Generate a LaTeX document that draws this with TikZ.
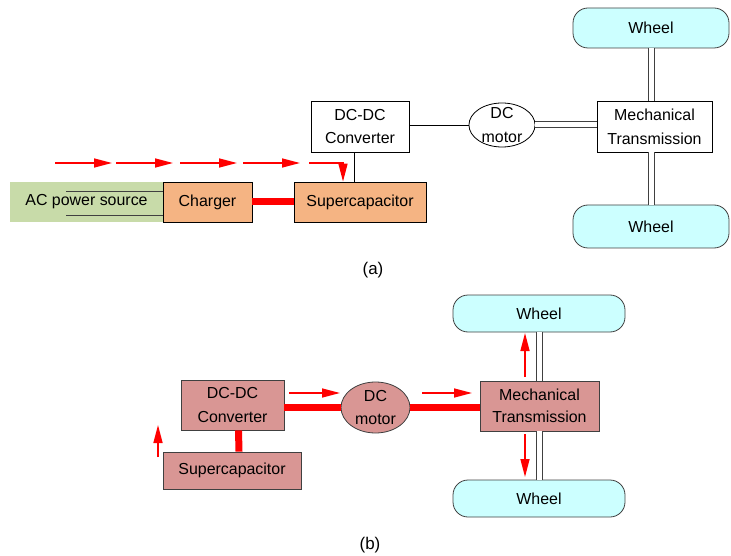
\documentclass[tikz,border=0pt]{standalone}
\usepackage{fontspec}
\setmainfont{Liberation Sans}
\usetikzlibrary{arrows.meta}
\usetikzlibrary{shapes.geometric}
\definecolor{sourceColor}{HTML}{C8DBA9}
\definecolor{chargeColor}{HTML}{F5B483}
\definecolor{driveColor}{HTML}{D99694}
\definecolor{wheelColor}{HTML}{CCFFFF}
\definecolor{flowColor}{HTML}{FF0000}
\definecolor{edgeColor}{HTML}{404040}
\begin{document}
\begin{tikzpicture}[x=1bp,y=-1bp,
  box/.style={draw, line width=0.8bp, rectangle, inner sep=0pt, align=center,
    font=\fontsize{16}{24}\selectfont},
  motorbox/.style={draw, line width=0.8bp, ellipse, inner xsep=3bp, inner ysep=-3bp,
    align=center, font=\fontsize{16}{24}\selectfont},
  wheelbox/.style={draw=edgeColor, line width=0.8bp, fill=wheelColor, rectangle,
    rounded corners=15bp, inner sep=0pt, font=\fontsize{16}{20}\selectfont},
  powerline/.style={draw=flowColor, line width=7bp},
  shaft/.style={draw=edgeColor, line width=1bp, double=white, double distance=5bp},
  flow/.style={draw=flowColor, line width=1.5bp, -{Triangle[length=18bp,width=9bp]}}]

\useasboundingbox (0, 0) rectangle (731, 556);

% part (a)
\begin{scope}
% box layer
\node[box, draw=none, fill=sourceColor, minimum width=153bp, minimum height=40bp]
  (acsrc) at (86.5, 202) {AC power source};
\node[box, fill=chargeColor, minimum width=89bp, minimum height=40bp]
  (charger) at (207.5, 202) {Charger};
\node[box, fill=chargeColor, minimum width=132bp, minimum height=40bp]
  (supcapA) at (360, 202) {Supercapacitor};
\node[box, fill=white, minimum width=98bp, minimum height=51bp]
  (convA) at (360, 126.5) {DC-DC\\Converter};
\node[motorbox, fill=white, minimum width=66bp, minimum height=44bp]
  (motorA) at (502, 125) {DC\\motor};
\node[box, fill=white, minimum width=115bp, minimum height=51bp]
  (transA) at (654.5, 126.5) {Mechanical\\Transmission};
\node[wheelbox, minimum width=156bp, minimum height=40bp]
  (wheelA1) at (651, 28) {Wheel};
\node[wheelbox, minimum width=156bp, minimum height=43bp]
  (wheelA2) at (651, 226.5) {Wheel};

% link layer
\draw[edgeColor, line width=0.9bp] ([yshift=-10bp]acsrc.north east) -- ++(-97, 0);
\draw[edgeColor, line width=0.9bp] ([yshift=7bp]acsrc.south east) -- ++(-97, 0);
\draw[powerline] (charger.east) -- (supcapA.west);
\draw[line width=0.9bp] ([xshift=-6bp]convA.south) -- ([xshift=-6bp]supcapA.north);
\draw[line width=0.9bp] (convA.east |- motorA.east) -- (motorA.west);
\draw[shaft] (motorA.east) -- (transA.west |- motorA.east);
\draw[shaft] (wheelA1.south) -- (wheelA1.south |- transA.north);
\draw[shaft] (wheelA2.north |- transA.south) -- (wheelA2.north);

% arrow layer
\draw[flow] (55, 163) -- (112, 163);
\draw[flow] (116, 163) -- (173, 163);
\draw[flow] (180, 163) -- (237, 163);
\draw[flow] (243, 163) -- (300, 163);
\draw[flow] (309, 163) -| ([xshift=-17bp]supcapA.north);

\node[font=\fontsize{17}{20}\selectfont] (capA) at (373, 270) {(a)};
\end{scope}

% part (b)
\begin{scope}
% box layer
\node[box, draw=edgeColor, fill=driveColor, minimum width=103bp, minimum height=50bp]
  (convB) at (232.5, 405) {DC-DC\\Converter};
\node[box, draw=edgeColor, fill=driveColor, minimum width=138bp, minimum height=37bp]
  (supcapB) at (232, 470.5) {Supercapacitor};
\node[motorbox, draw=edgeColor, fill=driveColor, minimum width=69bp, minimum height=51bp]
  (motorB) at (375.5, 407.5) {DC\\motor};
\node[box, draw=edgeColor, fill=driveColor, minimum width=119bp, minimum height=50bp,
  font=\fontsize{16}{22}\selectfont]
  (transB) at (539.5, 406) {Mechanical\\Transmission};
\node[wheelbox, minimum width=172bp, minimum height=37bp]
  (wheelB1) at (539, 313.5) {Wheel};
\node[wheelbox, minimum width=172bp, minimum height=37bp]
  (wheelB2) at (539, 498.5) {Wheel};

% link layer
\draw[powerline] ([xshift=6bp]convB.south) -- ([xshift=7bp]supcapB.north);
\draw[powerline] (convB.east |- motorB.west) -- (motorB.west);
\draw[powerline] (motorB.east) -- (transB.west |- motorB.east);
\draw[shaft] (wheelB1.south) -- (wheelB1.south |- transB.north);
\draw[shaft] (wheelB2.north |- transB.south) -- (wheelB2.north);

% arrow layer
\draw[flow] (158, 457) -- (158, 425);
\draw[flow] (289, 393) -- (340, 393);
\draw[flow] (422, 393) -- (472, 393);
\draw[flow] (525, 377) -- (525, 333);
\draw[flow] (525, 434) -- (525, 477);

\node[font=\fontsize{17}{20}\selectfont] (capB) at (370, 545) {(b)};
\end{scope}
\end{tikzpicture}
\end{document}
